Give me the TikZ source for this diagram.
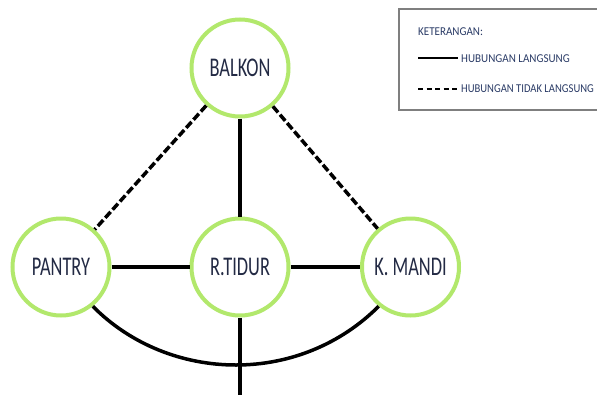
\documentclass[tikz,border=0pt]{standalone}
\usepackage{fontspec}
\setmainfont{Carlito}
\definecolor{ringgreen}{HTML}{B2E86C}
\definecolor{txtnavy}{HTML}{232A44}
\definecolor{legtxt}{HTML}{2A3B66}
\definecolor{boxgray}{HTML}{7F7F7F}
\newcommand\roomtext[1]{\raisebox{-4.5pt}{\scalebox{0.68}[1]{#1}}}
\newcommand\legtext[1]{\scalebox{0.92}[1]{#1}}
\begin{document}
\begin{tikzpicture}[x=1pt,y=-1pt,
  room/.style={circle, draw=ringgreen, line width=4pt, minimum size=97pt, inner sep=0pt, fill=white, text=txtnavy, font=\fontsize{27}{27}\selectfont},
  direct/.style={line width=3.5pt, black},
  indirect/.style={line width=3.5pt, black, dash pattern=on 8pt off 3pt},
  legendtext/.style={text=legtxt, font=\fontsize{12}{12}\selectfont, anchor=west, inner sep=0pt}]
\clip (0,0) rectangle (597,394);
\useasboundingbox (0,0) rectangle (597,394);
\fill[white] (0,0) rectangle (597,394);

% rooms
\node[room] (balkon) at (240,68) {\roomtext{BALKON}};
\node[room] (pantry) at (61,267) {\roomtext{PANTRY}};
\node[room] (rtidur) at (240,267) {\roomtext{R.TIDUR}};
\node[room] (kmandi) at (410.5,267) {\roomtext{K. MANDI}};

% connectors
\draw[indirect] (balkon) -- (pantry);
\draw[indirect] (balkon) -- (kmandi);
\draw[direct] (balkon) -- (rtidur);
\draw[direct] (pantry) -- (rtidur);
\draw[direct] (rtidur) -- (kmandi);
\coordinate (arcbottom) at (236,365);
\coordinate (downend) at (240,400);
\draw[direct] (pantry.-51) .. controls (130,344) and (182,365) .. (arcbottom)
  .. controls (290,365) and (341,344) .. (kmandi.-129);
\draw[direct] (rtidur) -- (downend);

% legend
\draw[boxgray, line width=1.5pt] (399,9) rectangle (620,110);
\node[legendtext] (ket) at (418,32) {\legtext{KETERANGAN:}};
\coordinate (ls1) at (418,58);
\coordinate (ls2) at (458,58);
\draw[line width=2pt] (ls1) -- (ls2);
\node[legendtext] (lt1) at (461,59) {\legtext{HUBUNGAN LANGSUNG}};
\coordinate (ld1) at (418,88.5);
\coordinate (ld2) at (460,88.5);
\draw[line width=2pt, dash pattern=on 5pt off 3.5pt] (ld1) -- (ld2);
\node[legendtext] (lt2) at (461,89) {\scalebox{0.885}[1]{HUBUNGAN TIDAK LANGSUNG}};
\end{tikzpicture}
\end{document}
